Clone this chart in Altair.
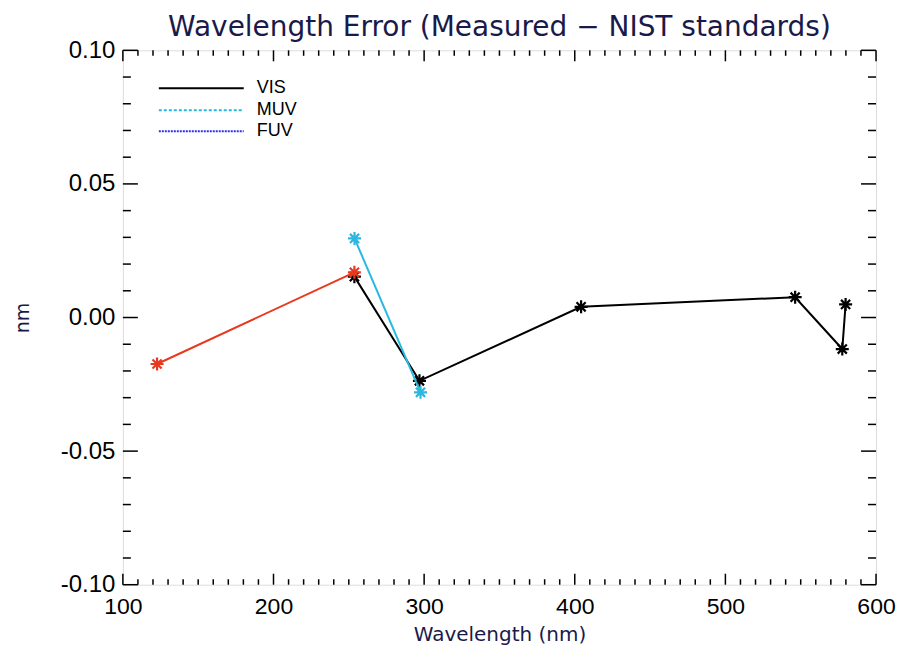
import altair as alt
import pandas as pd

# ---------------- data ----------------
series_names = ["VIS", "MUV", "FUV"]
vis_wl = [253.7, 296.9, 404.2, 546.3, 577.6, 579.8]
vis_err = [0.0153, -0.0237, 0.0040, 0.0076, -0.0118, 0.0049]
muv_wl = [253.8, 297.6]
muv_err = [0.0296, -0.0280]
fuv_wl = [122.7, 253.7]
fuv_err = [-0.0174, 0.0169]

line_colors = ["#000000", "#2ab8e0", "#e8391f"]
legend_colors = ["#000000", "#2ab8e0", "#3030ee"]

x_major = [100, 200, 300, 400, 500, 600]
x_minor = [v for v in range(110, 600, 10) if v % 100]
y_major = [-0.10, -0.05, 0.0, 0.05, 0.10]
y_minor = [round(-0.1 + 0.01 * i, 2) for i in range(21) if i % 5]

title_text = "Wavelength Error (Measured \u2212 NIST standards)"
x_title = "Wavelength (nm)"
y_title = "nm"

# ---------------- layout ----------------
W, H = 754, 535
XL_MAJ, XL_MIN = 11, 5.5
YL_MAJ, YL_MIN = 15, 8

rows = []
for name, xs_, ys_ in zip(series_names, [vis_wl, muv_wl, fuv_wl], [vis_err, muv_err, fuv_err]):
    for i, (a, b) in enumerate(zip(xs_, ys_)):
        rows.append({"series": name, "wl": a, "err": b, "ord": i})
df = pd.DataFrame(rows)

xscale = alt.Scale(domain=[100, 600], nice=False, zero=False)
yscale = alt.Scale(domain=[-0.1, 0.1], nice=False, zero=False)
cscale = alt.Scale(domain=series_names, range=line_colors)

xaxis = alt.Axis(
    title=x_title, values=x_major, format="d", grid=False, domain=False, ticks=False,
    tickSize=0, labelPadding=11, labelFontSize=23, labelFont="Liberation Sans",
    labelColor="black", labelFlush=False, labelOverlap=False,
    titleFont="DejaVu Sans", titleFontSize=20, titleFontWeight="normal",
    titleColor="#1a1a4a", titlePadding=6,
)
yaxis = alt.Axis(
    title=y_title, values=y_major, grid=False, domain=False, ticks=False, tickSize=0,
    labelPadding=8, labelFontSize=24, labelFont="Liberation Sans", labelColor="black",
    labelFlush=False, labelOverlap=False,
    labelExpr="datum.value < -0.0001 ? '-' + format(-datum.value, '.2f') : format(abs(datum.value), '.2f')",
    titleFont="DejaVu Sans", titleFontSize=19, titleFontWeight="normal", titleColor="#1a1a4a",
    titlePadding=28,
)

def X(field):
    return alt.X(field, scale=xscale, axis=xaxis)

def Y(field):
    return alt.Y(field, scale=yscale, axis=yaxis)

asterisk = "M-1,0L1,0M0,-1L0,1M-0.7,-0.7L0.7,0.7M-0.7,0.7L0.7,-0.7"

layers = []

# inward ticks on all four sides
def xticks(vals, length):
    d = pd.DataFrame({"v": vals})
    bot = alt.Chart(d).mark_rule(color="black", strokeWidth=1.5).encode(
        x=X("v:Q"), y=alt.value(H), y2=alt.value(H - length))
    top = alt.Chart(d).mark_rule(color="black", strokeWidth=1.5).encode(
        x=X("v:Q"), y=alt.value(0), y2=alt.value(length))
    return [bot, top]

def yticks(vals, length):
    d = pd.DataFrame({"v": vals})
    left = alt.Chart(d).mark_rule(color="black", strokeWidth=1.5).encode(
        y=Y("v:Q"), x=alt.value(0), x2=alt.value(length))
    right = alt.Chart(d).mark_rule(color="black", strokeWidth=1.5).encode(
        y=Y("v:Q"), x=alt.value(W), x2=alt.value(W - length))
    return [left, right]

layers += xticks(x_major, XL_MAJ) + xticks(x_minor, XL_MIN)
layers += yticks(y_major, YL_MAJ) + yticks(y_minor, YL_MIN)

for name in series_names:
    sub = df[df.series == name]
    line = alt.Chart(sub).mark_line(strokeWidth=2).encode(
        x=X("wl:Q"), y=Y("err:Q"),
        color=alt.Color("series:N", scale=cscale, legend=None),
        order=alt.Order("ord:Q"),
    )
    pts = alt.Chart(sub).mark_point(shape=asterisk, filled=False, size=170, strokeWidth=2.2, opacity=1).encode(
        x=X("wl:Q"), y=Y("err:Q"),
        color=alt.Color("series:N", scale=cscale, legend=None),
    )
    layers += [line, pts]

# legend drawn inside the plot
leg_y = [38, 60, 81]
leg_dash = [[1, 0], [3, 2], [2, 1]]
for i, name in enumerate(series_names):
    d = pd.DataFrame({"label": [name]})
    layers.append(alt.Chart(d).mark_rule(color=legend_colors[i], strokeWidth=2, strokeDash=leg_dash[i]).encode(
        x=alt.value(36), x2=alt.value(121), y=alt.value(leg_y[i])))
    layers.append(alt.Chart(d).mark_text(align="left", baseline="middle", font="Liberation Sans",
                                         fontSize=18, color="black").encode(
        x=alt.value(134), y=alt.value(leg_y[i]), text="label:N"))

chart = alt.layer(*layers).properties(
    width=W, height=H,
    title=alt.TitleParams(title_text, font="DejaVu Sans", fontSize=28, fontWeight="normal",
                          color="#1a1a4a", offset=0, dy=4, anchor="middle", frame="group"),
    autosize=alt.AutoSizeParams(type="none"),
    padding={"left": 115, "top": 42, "right": 20, "bottom": 63},
).configure_view(stroke="black", strokeWidth=2).configure(background="white")

chart.save("out.html", embed_options={"renderer": "svg", "actions": False})
